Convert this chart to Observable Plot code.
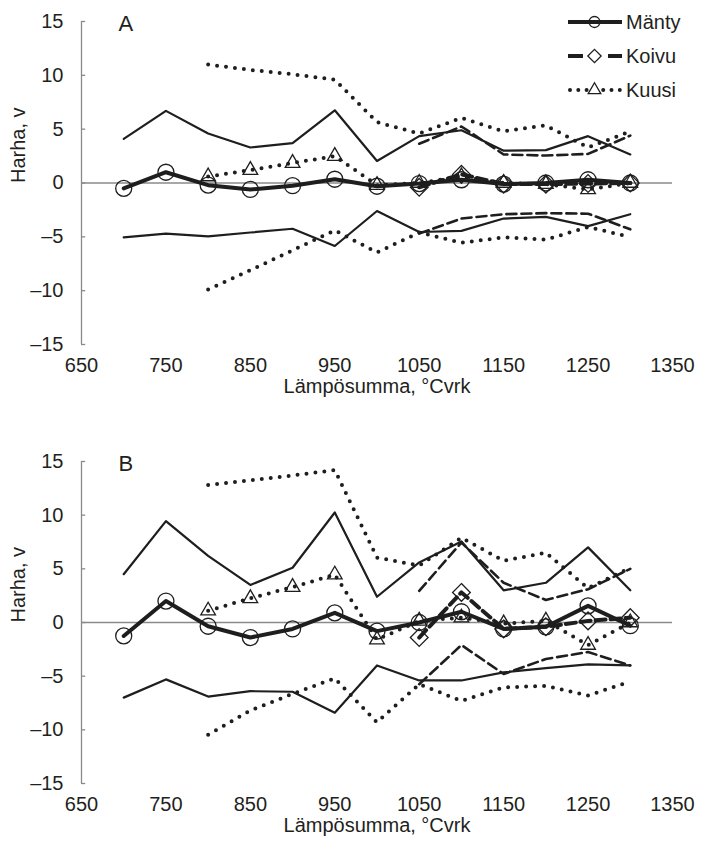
<!DOCTYPE html>
<html><head><meta charset="utf-8">
<script src="https://cdn.jsdelivr.net/npm/d3@7"></script>
<script src="https://cdn.jsdelivr.net/npm/@observablehq/plot@0.6"></script>
<style>
body{margin:0;background:#fff;}
#wrap{position:relative;width:701px;height:850px;font-family:"Liberation Sans",Arial,sans-serif;}
#wrap svg{display:block;}
#legend{position:absolute;left:0;top:0;}
</style>
</head><body><div id="wrap"></div>
<script>
// ---- data ----
const xManty = [700,750,800,850,900,950,1000,1050,1100,1150,1200,1250,1300];
const xKoivu = [1050,1100,1150,1200,1250,1300];
const xKuusi = [800,850,900,950,1000,1050,1100,1150,1200,1250,1300];
const xTicks = [650,750,850,950,1050,1150,1250,1350];
const yTicks = [-15,-10,-5,0,5,10,15];
const seriesNames = ["Mänty","Koivu","Kuusi"];
const panelLetters = ["A","B"];

// Panel A
const mantyA    = [-0.5, 1.0, -0.2, -0.6, -0.25, 0.35, -0.3, -0.05, 0.3, -0.1, 0.0, 0.3, 0.0];
const mantyAHi  = [4.1, 6.7, 4.6, 3.3, 3.7, 6.75, 2.05, 4.35, 4.9, 3.0, 3.05, 4.35, 2.65];
const mantyALo  = [-5.05, -4.7, -4.95, -4.6, -4.25, -5.85, -2.6, -4.55, -4.45, -3.3, -3.15, -4.0, -2.9];
const koivuA    = [-0.4, 0.8, -0.1, -0.1, -0.05, 0.0];
const koivuAHi  = [3.65, 5.25, 2.65, 2.55, 2.7, 4.4];
const koivuALo  = [-4.7, -3.3, -2.9, -2.8, -2.85, -4.3];
const kuusiA    = [0.6, 1.2, 1.85, 2.5, -0.2, 0.0, 0.6, 0.0, -0.1, -0.6, 0.0];
const kuusiAHi  = [11.0, 10.5, 10.1, 9.6, 5.65, 4.6, 6.05, 4.8, 5.35, 3.3, 4.8];
const kuusiALo  = [-9.9, -8.1, -6.25, -4.4, -6.45, -4.6, -5.55, -5.05, -5.25, -4.1, -5.0];

// Panel B
const mantyB    = [-1.25, 2.0, -0.35, -1.4, -0.6, 0.9, -0.8, 0.0, 1.0, -0.6, -0.4, 1.55, -0.3];
const mantyBHi  = [4.5, 9.45, 6.2, 3.5, 5.1, 10.25, 2.4, 5.6, 7.55, 3.0, 3.7, 7.0, 3.0];
const mantyBLo  = [-7.0, -5.3, -6.9, -6.4, -6.45, -8.4, -4.0, -5.4, -5.4, -4.65, -4.25, -3.9, -4.0];
const koivuB    = [-1.4, 2.8, -0.6, -0.4, 0.15, 0.45];
const koivuBHi  = [2.95, 7.45, 3.7, 2.1, 3.1, 5.0];
const koivuBLo  = [-5.75, -2.1, -4.8, -3.4, -2.75, -4.0];
const kuusiB    = [1.1, 2.25, 3.3, 4.45, -1.6, 0.15, 0.45, -0.1, 0.15, -2.1, 0.0];
const kuusiBHi  = [12.8, 13.25, 13.7, 14.2, 6.05, 5.3, 7.9, 5.75, 6.5, 3.2, 5.1];
const kuusiBLo  = [-10.45, -8.2, -6.65, -5.2, -9.3, -5.75, -7.3, -6.05, -5.9, -6.8, -5.5];

// ---- drawing ----
const ink = "#1e1e1e";
const gray = "#8a8a8a";
const rows = (xs, ys) => xs.map((x, i) => ({x, y: ys[i]}));
const fmt = d => d < 0 ? "\u2013" + (-d) : String(d);

const styles = {
  "Mänty": {mid: {strokeWidth: 4}, band: {strokeWidth: 2.2}, symbol: "circle", r: 8},
  "Koivu": {mid: {strokeWidth: 4, strokeDasharray: "10,5"}, band: {strokeWidth: 2.6, strokeDasharray: "10,5"}, symbol: "diamond2", r: 8},
  "Kuusi": {mid: {strokeWidth: 4, strokeDasharray: "0,9", strokeLinecap: "round"}, band: {strokeWidth: 4, strokeDasharray: "0,9", strokeLinecap: "round"}, symbol: "triangle2", r: 7}
};

function panel(letter, series, marginTop, marginBottom, height) {
  const marks = [
    Plot.ruleY([0], {x1: 650, x2: 1350, stroke: gray, strokeWidth: 1.3}),
    Plot.ruleX([650], {y1: -15, y2: 15, stroke: gray, strokeWidth: 1.3}),
    Plot.ruleY(yTicks, {x1: 650, x2: 655, stroke: gray, strokeWidth: 1.3}),
    Plot.axisY({ticks: yTicks, tickSize: 0, tickPadding: 18, tickFormat: fmt, label: null}),
    Plot.axisX({ticks: xTicks, tickSize: 0, tickPadding: 13, tickFormat: d => String(d), label: null}),
    Plot.text(["Harha, v"], {frameAnchor: "left", dx: -63, rotate: -90}),
    Plot.text(["Lämpösumma, °Cvrk"], {frameAnchor: "bottom", dy: 48}),
    Plot.text([letter], {frameAnchor: "top-left", dx: 37, dy: -6, textAnchor: "start", lineAnchor: "top", fontSize: 22})
  ];
  for (const s of series) {
    const st = styles[s.name];
    marks.push(Plot.line(rows(s.x, s.hi), {x: "x", y: "y", stroke: ink, strokeLinejoin: "round", ...st.band}));
    marks.push(Plot.line(rows(s.x, s.lo), {x: "x", y: "y", stroke: ink, strokeLinejoin: "round", ...st.band}));
  }
  for (const s of series) {
    const st = styles[s.name];
    marks.push(Plot.line(rows(s.x, s.mid), {x: "x", y: "y", stroke: ink, strokeLinejoin: "round", ...st.mid}));
  }
  for (const s of series) {
    const st = styles[s.name];
    marks.push(Plot.dot(rows(s.x, s.mid), {x: "x", y: "y", symbol: st.symbol, r: st.r, fill: "none", stroke: ink, strokeWidth: 1.3}));
  }
  return Plot.plot({
    width: 701, height, marginLeft: 81, marginRight: 29, marginTop, marginBottom,
    x: {domain: [650, 1350]},
    y: {domain: [-15, 15]},
    style: {fontFamily: '"Liberation Sans", Arial, sans-serif', fontSize: "20px", color: "#231f20", background: "#fff"},
    marks
  });
}

const wrap = document.getElementById("wrap");
wrap.appendChild(panel(panelLetters[0], [
  {name: "Mänty", x: xManty, mid: mantyA, hi: mantyAHi, lo: mantyALo},
  {name: "Koivu", x: xKoivu, mid: koivuA, hi: koivuAHi, lo: koivuALo},
  {name: "Kuusi", x: xKuusi, mid: kuusiA, hi: kuusiAHi, lo: kuusiALo}
], 21, 76, 420));
wrap.appendChild(panel(panelLetters[1], [
  {name: "Mänty", x: xManty, mid: mantyB, hi: mantyBHi, lo: mantyBLo},
  {name: "Koivu", x: xKoivu, mid: koivuB, hi: koivuBHi, lo: koivuBLo},
  {name: "Kuusi", x: xKuusi, mid: kuusiB, hi: kuusiBHi, lo: kuusiBLo}
], 41, 67, 430));

// legend
const leg = d3.select(wrap).append("svg").attr("id", "legend").attr("width", 701).attr("height", 110);
const legY = [22, 56, 90];
const legDash = {"Mänty": null, "Koivu": "15,25,15", "Kuusi": "0,8.3"};
const legSym = {"Mänty": d3.symbolCircle, "Koivu": d3.symbolDiamond2, "Kuusi": d3.symbolTriangle2};
const legR = {"Mänty": 5.5, "Koivu": 6, "Kuusi": 6};
seriesNames.forEach((n, i) => {
  const g = leg.append("g").attr("transform", `translate(0,${legY[i]})`);
  const ln = g.append("line").attr("x1", 568).attr("x2", 622).attr("stroke", ink).attr("stroke-width", 4);
  if (legDash[n]) ln.attr("stroke-dasharray", legDash[n]);
  if (n === "Kuusi") ln.attr("stroke-linecap", "round").attr("x1", 570);
  g.append("path").attr("transform", "translate(594.5,0)")
    .attr("d", d3.symbol(legSym[n], Math.PI * legR[n] * legR[n])())
    .attr("fill", n === "Mänty" ? "none" : "#fff").attr("stroke", ink).attr("stroke-width", 1.3);
  g.append("text").attr("x", 626).attr("dy", "0.35em").attr("font-size", 20).attr("fill", "#231f20").text(n);
});
</script>
</body></html>
